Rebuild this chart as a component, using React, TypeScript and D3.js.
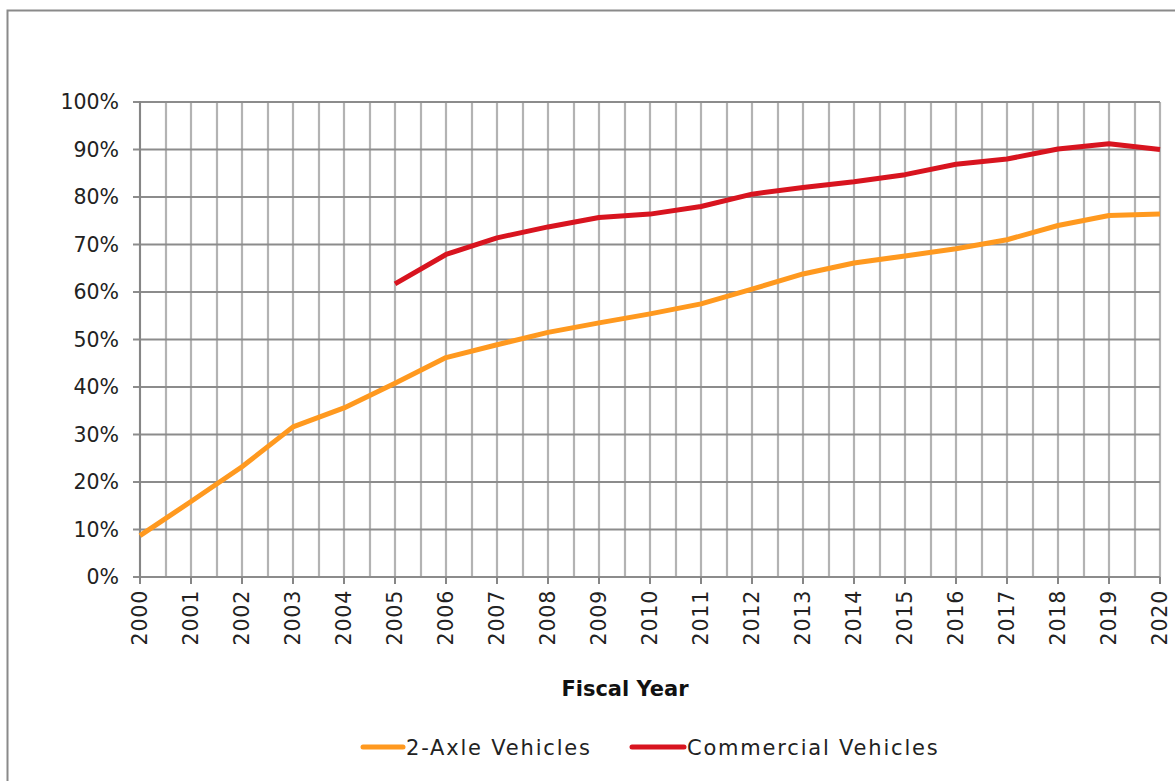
import React from 'react'
import * as d3 from 'd3'

// fiscal years on the x axis
const years = [2000, 2001, 2002, 2003, 2004, 2005, 2006, 2007, 2008, 2009, 2010,
  2011, 2012, 2013, 2014, 2015, 2016, 2017, 2018, 2019, 2020]

// share of vehicles, in percent
const twoAxle = [8.7, 15.9, 23.2, 31.6, 35.6, 40.8, 46.2, 48.9, 51.5, 53.5, 55.4,
  57.5, 60.6, 63.8, 66.1, 67.6, 69.1, 71.0, 74.0, 76.1, 76.4]
const commercial = [null, null, null, null, null, 61.7, 67.9, 71.4, 73.7, 75.7, 76.4,
  78.0, 80.6, 82.0, 83.2, 84.7, 86.9, 88.0, 90.1, 91.2, 90.0]

const yTicks = [0, 10, 20, 30, 40, 50, 60, 70, 80, 90, 100]

const seriesNames = ['2-Axle Vehicles', 'Commercial Vehicles']
const seriesColors = ['#ff991f', '#d8141f']

const W = 1175,
      H = 781,
      LEFT = 140,
      RIGHT = 1160,
      TOP = 102,
      BOTTOM = 577

const FONT = "'DejaVu Sans', sans-serif"

export default function App() {
  const x = d3.scaleLinear().domain([2000, 2020]).range([LEFT, RIGHT])
  const y = d3.scaleLinear().domain([0, 100]).range([BOTTOM, TOP])

  // gridlines every half year
  const halfYears = d3.range(2000, 2020.01, 0.5)

  const line = d3.line<[number, number | null]>()
    .defined(d => d[1] != null)
    .x(d => x(d[0]))
    .y(d => y(d[1] as number))

  const paths = [twoAxle, commercial].map(vals =>
    line(years.map((yr, i) => [yr, vals[i]] as [number, number | null])) || '')

  const legendItems = [
    { x1: 363, x2: 403, tx: 406 },
    { x1: 632, x2: 684, tx: 687 },
  ]

  return (
    <svg width={W} height={H} style={{ position: 'absolute', left: 0, top: 0 }}>
      <rect x={0} y={0} width={W} height={H} fill="#fff" />
      <rect x={7.5} y={10.5} width={1400} height={1000} fill="none" stroke="#8a8a8a" strokeWidth={2} />

      {/* vertical grid */}
      {halfYears.map(v => (
        <line key={'v' + v} x1={Math.round(x(v))} x2={Math.round(x(v))} y1={TOP} y2={BOTTOM}
          stroke="#b3b3b3" strokeWidth={2.2} />
      ))}
      {/* horizontal grid */}
      {yTicks.map(t => (
        <line key={'h' + t} x1={LEFT - 7} x2={RIGHT} y1={y(t)} y2={y(t)}
          stroke="#8c8c8c" strokeWidth={2} />
      ))}
      {/* axes */}
      <line x1={LEFT} x2={LEFT} y1={TOP - 1} y2={BOTTOM} stroke="#868686" strokeWidth={2} />
      {years.map(yr => (
        <line key={'t' + yr} x1={Math.round(x(yr))} x2={Math.round(x(yr))} y1={BOTTOM} y2={BOTTOM + 7}
          stroke="#868686" strokeWidth={2} />
      ))}

      {/* y labels */}
      {yTicks.map(t => (
        <text key={'yl' + t} x={119} y={y(t)} dy="0.36em" textAnchor="end"
          fontFamily={FONT} fontSize={20.5} fill="#222">{t + '%'}</text>
      ))}
      {/* x labels */}
      {years.map(yr => (
        <text key={'xl' + yr} transform={`translate(${x(yr)},${BOTTOM + 13}) rotate(-90)`}
          dy="0.36em" textAnchor="end" fontFamily={FONT} fontSize={20.5} letterSpacing={0.8}
          fill="#222">{yr}</text>
      ))}

      {/* series */}
      {paths.map((d, i) => (
        <path key={'s' + i} d={d} fill="none" stroke={seriesColors[i]} strokeWidth={5}
          strokeLinejoin="round" />
      ))}

      <text x={625} y={696} textAnchor="middle" fontFamily={FONT} fontSize={21}
        fontWeight="bold" fill="#111">Fiscal Year</text>

      {/* legend */}
      {legendItems.map((it, i) => (
        <g key={'lg' + i}>
          <line x1={it.x1} x2={it.x2} y1={747} y2={747} stroke={seriesColors[i]}
            strokeWidth={5} strokeLinecap="round" />
          <text x={it.tx} y={755} fontFamily={FONT} fontSize={21} letterSpacing={1.8}
            fill="#222">{seriesNames[i]}</text>
        </g>
      ))}
    </svg>
  )
}
